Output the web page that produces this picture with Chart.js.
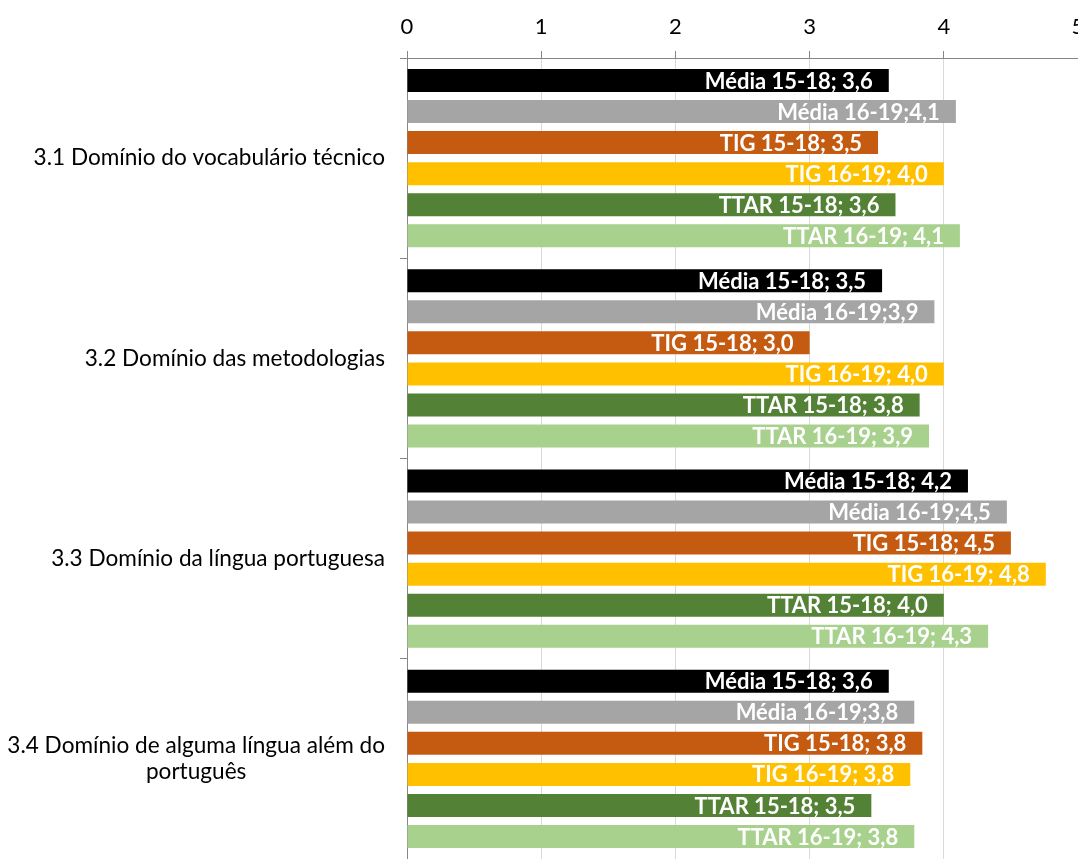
<!DOCTYPE html>
<html>
<head>
<meta charset="utf-8">
<script src="https://cdn.jsdelivr.net/npm/chart.js@4.4.1/dist/chart.umd.min.js"></script>
<style>
  html, body { margin: 0; padding: 0; background: #fff; overflow: hidden; }
  #wrap { width: 1078px; height: 859px; }
</style>
</head>
<body>
<div id="wrap"><canvas id="chart" width="1078" height="859"></canvas></div>
<script>
// categories (y axis), one entry per line of the label
const categories = [
  ["3.1 Domínio do vocabulário técnico"],
  ["3.2 Domínio das metodologias"],
  ["3.3 Domínio da língua portuguesa"],
  ["3.4 Domínio de alguma língua além do", "português"],
];

const seriesNames = ["Média 15-18", "Média 16-19", "TIG 15-18", "TIG 16-19", "TTAR 15-18", "TTAR 16-19"];
const seriesColors = ["#000000", "#A5A5A5", "#C55A11", "#FFC000", "#538135", "#A9D18E"];

// bar lengths
const media1518 = [3.59, 3.54, 4.18, 3.59];
const media1619 = [4.09, 3.93, 4.47, 3.78];
const tig1518 = [3.51, 3.0, 4.5, 3.84];
const tig1619 = [4.0, 4.0, 4.76, 3.75];
const ttar1518 = [3.64, 3.82, 4.0, 3.46];
const ttar1619 = [4.12, 3.89, 4.33, 3.78];

// data labels as printed on the bars
const media1518Labels = ["Média 15-18; 3,6", "Média 15-18; 3,5", "Média 15-18; 4,2", "Média 15-18; 3,6"];
const media1619Labels = ["Média 16-19;4,1", "Média 16-19;3,9", "Média 16-19;4,5", "Média 16-19;3,8"];
const tig1518Labels = ["TIG 15-18; 3,5", "TIG 15-18; 3,0", "TIG 15-18; 4,5", "TIG 15-18; 3,8"];
const tig1619Labels = ["TIG 16-19; 4,0", "TIG 16-19; 4,0", "TIG 16-19; 4,8", "TIG 16-19; 3,8"];
const ttar1518Labels = ["TTAR 15-18; 3,6", "TTAR 15-18; 3,8", "TTAR 15-18; 4,0", "TTAR 15-18; 3,5"];
const ttar1619Labels = ["TTAR 16-19; 4,1", "TTAR 16-19; 3,9", "TTAR 16-19; 4,3", "TTAR 16-19; 3,8"];

const xTicks = [0, 1, 2, 3, 4, 5];

const seriesValues = [media1518, media1619, tig1518, tig1619, ttar1518, ttar1619];
const seriesLabels = [media1518Labels, media1619Labels, tig1518Labels, tig1619Labels, ttar1518Labels, ttar1619Labels];

const FONT = "Lato, 'Open Sans', sans-serif";

// white bold labels at the end of every bar
const barLabels = {
  id: "barLabels",
  afterDatasetsDraw(chart) {
    const ctx = chart.ctx;
    ctx.save();
    ctx.fillStyle = "#ffffff";
    ctx.font = "bold 22px " + FONT;
    ctx.textAlign = "right";
    ctx.textBaseline = "middle";
    chart.data.datasets.forEach((ds, d) => {
      const meta = chart.getDatasetMeta(d);
      meta.data.forEach((bar, i) => {
        ctx.fillText(seriesLabels[d][i], bar.x - 16, bar.y + 1);
      });
    });
    ctx.restore();
  },
};

// category names, right-aligned block with centered lines (like Excel)
const categoryLabels = {
  id: "categoryLabels",
  afterDraw(chart) {
    const ctx = chart.ctx;
    const yScale = chart.scales.y;
    const right = 385;
    const lineH = 26;
    ctx.save();
    ctx.fillStyle = "#000000";
    ctx.font = "22.6px " + FONT;
    ctx.textAlign = "center";
    ctx.textBaseline = "middle";
    categories.forEach((lines, i) => {
      const y = yScale.getPixelForValue(i);
      const w = Math.max(...lines.map((l) => ctx.measureText(l).width));
      const cx = right - w / 2;
      const y0 = y - ((lines.length - 1) * lineH) / 2;
      lines.forEach((l, k) => ctx.fillText(l, cx, y0 + k * lineH));
    });
    ctx.restore();
  },
};

const chart = new Chart(document.getElementById("chart"), {
  type: "bar",
  data: {
    labels: categories,
    datasets: seriesNames.map((name, s) => ({
      label: name,
      data: seriesValues[s],
      backgroundColor: seriesColors[s],
      categoryPercentage: 0.93,
      barPercentage: 0.74,
    })),
  },
  options: {
    indexAxis: "y",
    responsive: false,
    animation: false,
    layout: { padding: 0 },
    plugins: {
      legend: { display: false },
      tooltip: { enabled: false },
    },
    scales: {
      x: {
        position: "top",
        min: 0,
        max: 5,
        afterBuildTicks: (scale) => {
          scale.ticks = xTicks.map((v) => ({ value: v }));
        },
        afterFit: (scale) => {
          scale.height = 58;
          // let the last label run off the edge, as in the original
          scale.paddingLeft = 0;
          scale.paddingRight = 0;
        },
        ticks: {
          color: "#000000",
          font: { family: FONT, size: 22 },
          padding: 11,
        },
        grid: {
          color: "#D9D9D9",
          tickColor: "#868686",
          tickLength: 7,
        },
        border: { color: "#868686" },
      },
      y: {
        afterFit: (scale) => {
          scale.width = 407;
        },
        ticks: { display: false },
        grid: {
          offset: true,
          drawOnChartArea: false,
          tickColor: "#868686",
          tickLength: 7,
        },
        border: { color: "#868686" },
      },
    },
  },
  plugins: [barLabels, categoryLabels],
});
</script>
</body>
</html>
